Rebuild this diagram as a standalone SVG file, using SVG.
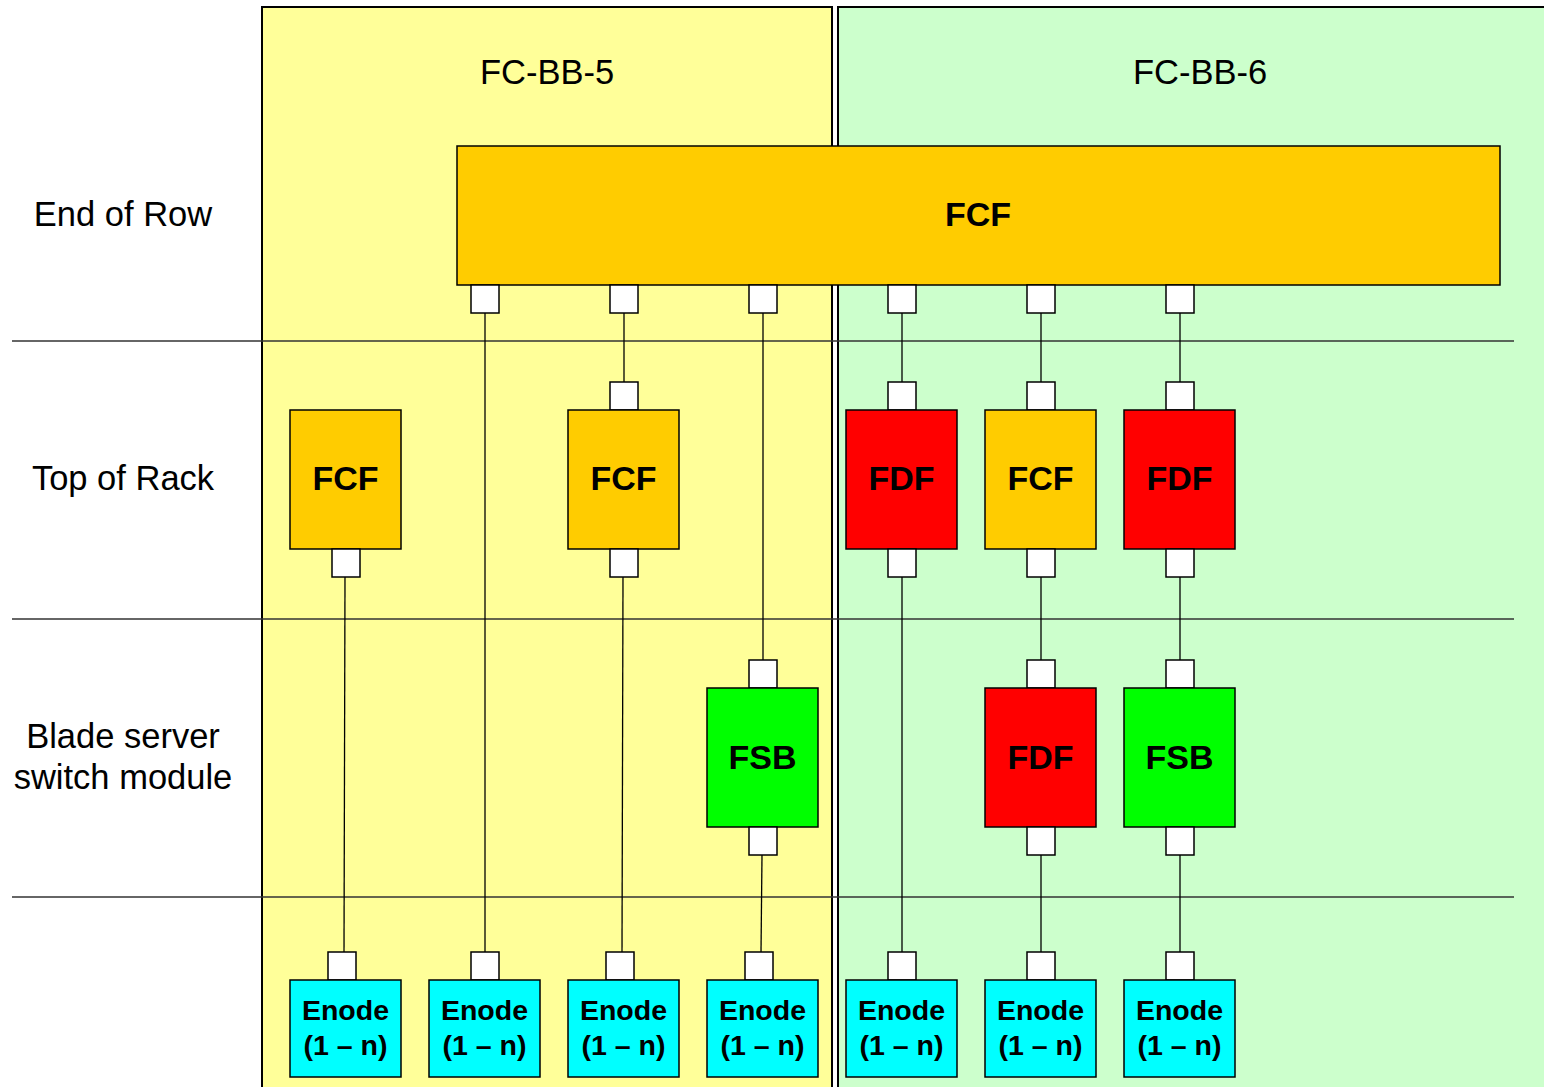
<svg xmlns="http://www.w3.org/2000/svg" width="1544" height="1087" viewBox="0 0 1544 1087">
<style>
.panel{stroke:#000;stroke-width:2}
.sep{stroke:#333333;stroke-width:1.5}
.node{stroke:#000;stroke-width:1.5}
.fcf{fill:#FFCC00}
.fdf{fill:#FF0000}
.fsb{fill:#00FF00}
.enode{fill:#00FFFF}
.port{fill:#FFFFFF;stroke:#000;stroke-width:1.5}
.lbl{font-family:"Liberation Sans",Arial,sans-serif;font-size:34.5px;fill:#000}
.nl{font-family:"Liberation Sans",Arial,sans-serif;font-size:34px;font-weight:bold;fill:#000;text-anchor:middle}
.el{font-family:"Liberation Sans",Arial,sans-serif;font-size:28.5px;font-weight:bold;fill:#000;text-anchor:middle}
.conn line{stroke:#000;stroke-width:1.3}
</style>
<rect width="1544" height="1087" fill="#FFFFFF"/>
<g id="panel-bb5"><rect class="panel" x="262" y="7" width="570" height="1090" fill="#FFFF99"/><text class="lbl" x="547" y="84" text-anchor="middle">FC-BB-5</text></g>
<g id="panel-bb6"><rect class="panel" x="838" y="7" width="720" height="1090" fill="#CCFFCC"/><text class="lbl" x="1200" y="84" text-anchor="middle">FC-BB-6</text></g>
<g id="rows">
<line class="sep" x1="12" y1="341" x2="1514" y2="341"/>
<line class="sep" x1="12" y1="619" x2="1514" y2="619"/>
<line class="sep" x1="12" y1="897" x2="1514" y2="897"/>
<text class="lbl" x="123" y="226" text-anchor="middle">End of Row</text>
<text class="lbl" x="123" y="490" text-anchor="middle">Top of Rack</text>
<text class="lbl" x="123" y="748" text-anchor="middle">Blade server</text>
<text class="lbl" x="123" y="789" text-anchor="middle">switch module</text>
</g>
<g class="conn" id="connectors">
<line x1="485" y1="313" x2="485" y2="952"/>
<line x1="624" y1="313" x2="624" y2="382"/>
<line x1="763" y1="313" x2="763" y2="660"/>
<line x1="902" y1="313" x2="902" y2="382"/>
<line x1="1041" y1="313" x2="1041" y2="382"/>
<line x1="1180" y1="313" x2="1180" y2="382"/>
<line x1="345" y1="577" x2="344" y2="952"/>
<line x1="623" y1="577" x2="622" y2="952"/>
<line x1="762" y1="855" x2="761" y2="952"/>
<line x1="902" y1="577" x2="902" y2="952"/>
<line x1="1041" y1="577" x2="1041" y2="660"/>
<line x1="1180" y1="577" x2="1180" y2="660"/>
<line x1="1041" y1="855" x2="1041" y2="952"/>
<line x1="1180" y1="855" x2="1180" y2="952"/>
</g>
<g id="eor-fcf">
<rect class="node fcf" x="457" y="146" width="1043" height="139"/>
<text class="nl" x="978" y="226">FCF</text>
<rect class="port" x="471" y="285" width="28" height="28"/>
<rect class="port" x="610" y="285" width="28" height="28"/>
<rect class="port" x="749" y="285" width="28" height="28"/>
<rect class="port" x="888" y="285" width="28" height="28"/>
<rect class="port" x="1027" y="285" width="28" height="28"/>
<rect class="port" x="1166" y="285" width="28" height="28"/>
</g>
<g id="tor-fcf1">
<rect class="node fcf" x="290" y="410" width="111" height="139"/>
<text class="nl" x="345.5" y="490">FCF</text>
<rect class="port" x="332" y="549" width="28" height="28"/>
</g>
<g id="tor-fcf2">
<rect class="port" x="610" y="382" width="28" height="28"/>
<rect class="node fcf" x="568" y="410" width="111" height="139"/>
<text class="nl" x="623.5" y="490">FCF</text>
<rect class="port" x="610" y="549" width="28" height="28"/>
</g>
<g id="tor-fdf1">
<rect class="port" x="888" y="382" width="28" height="28"/>
<rect class="node fdf" x="846" y="410" width="111" height="139"/>
<text class="nl" x="901.5" y="490">FDF</text>
<rect class="port" x="888" y="549" width="28" height="28"/>
</g>
<g id="tor-fcf3">
<rect class="port" x="1027" y="382" width="28" height="28"/>
<rect class="node fcf" x="985" y="410" width="111" height="139"/>
<text class="nl" x="1040.5" y="490">FCF</text>
<rect class="port" x="1027" y="549" width="28" height="28"/>
</g>
<g id="tor-fdf2">
<rect class="port" x="1166" y="382" width="28" height="28"/>
<rect class="node fdf" x="1124" y="410" width="111" height="139"/>
<text class="nl" x="1179.5" y="490">FDF</text>
<rect class="port" x="1166" y="549" width="28" height="28"/>
</g>
<g id="blade-fsb1">
<rect class="port" x="749" y="660" width="28" height="28"/>
<rect class="node fsb" x="707" y="688" width="111" height="139"/>
<text class="nl" x="762.5" y="769">FSB</text>
<rect class="port" x="749" y="827" width="28" height="28"/>
</g>
<g id="blade-fdf">
<rect class="port" x="1027" y="660" width="28" height="28"/>
<rect class="node fdf" x="985" y="688" width="111" height="139"/>
<text class="nl" x="1040.5" y="769">FDF</text>
<rect class="port" x="1027" y="827" width="28" height="28"/>
</g>
<g id="blade-fsb2">
<rect class="port" x="1166" y="660" width="28" height="28"/>
<rect class="node fsb" x="1124" y="688" width="111" height="139"/>
<text class="nl" x="1179.5" y="769">FSB</text>
<rect class="port" x="1166" y="827" width="28" height="28"/>
</g>
<g id="enode1"><rect class="port" x="328" y="952" width="28" height="28"/><rect class="node enode" x="290" y="980" width="111" height="97"/><text class="el" x="345.5" y="1020">Enode</text><text class="el" x="345.5" y="1055">(1 – n)</text></g>
<g id="enode2"><rect class="port" x="471" y="952" width="28" height="28"/><rect class="node enode" x="429" y="980" width="111" height="97"/><text class="el" x="484.5" y="1020">Enode</text><text class="el" x="484.5" y="1055">(1 – n)</text></g>
<g id="enode3"><rect class="port" x="606" y="952" width="28" height="28"/><rect class="node enode" x="568" y="980" width="111" height="97"/><text class="el" x="623.5" y="1020">Enode</text><text class="el" x="623.5" y="1055">(1 – n)</text></g>
<g id="enode4"><rect class="port" x="745" y="952" width="28" height="28"/><rect class="node enode" x="707" y="980" width="111" height="97"/><text class="el" x="762.5" y="1020">Enode</text><text class="el" x="762.5" y="1055">(1 – n)</text></g>
<g id="enode5"><rect class="port" x="888" y="952" width="28" height="28"/><rect class="node enode" x="846" y="980" width="111" height="97"/><text class="el" x="901.5" y="1020">Enode</text><text class="el" x="901.5" y="1055">(1 – n)</text></g>
<g id="enode6"><rect class="port" x="1027" y="952" width="28" height="28"/><rect class="node enode" x="985" y="980" width="111" height="97"/><text class="el" x="1040.5" y="1020">Enode</text><text class="el" x="1040.5" y="1055">(1 – n)</text></g>
<g id="enode7"><rect class="port" x="1166" y="952" width="28" height="28"/><rect class="node enode" x="1124" y="980" width="111" height="97"/><text class="el" x="1179.5" y="1020">Enode</text><text class="el" x="1179.5" y="1055">(1 – n)</text></g>
</svg>
